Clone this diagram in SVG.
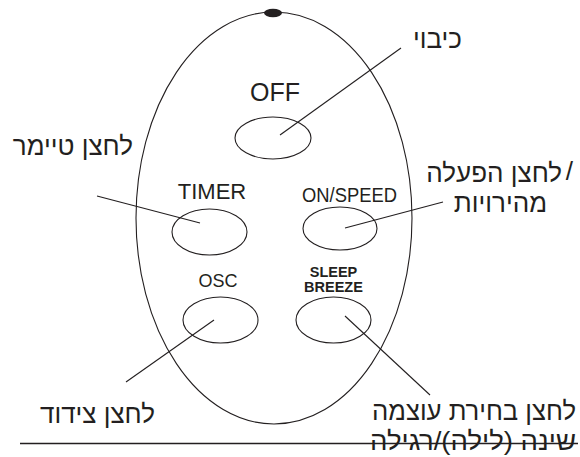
<svg xmlns="http://www.w3.org/2000/svg" width="580" height="457" viewBox="0 0 580 457">
<style>
.ln{stroke:#231f20;stroke-width:1.1;fill:none}
.btn{stroke:#231f20;stroke-width:1.1;fill:none}
.lbl{font-family:"Liberation Sans",Arial,sans-serif;fill:#231f20;text-anchor:middle}
.heb{font-family:"Liberation Sans","DejaVu Sans",sans-serif;fill:#231f20;font-size:26px;text-anchor:end}
</style>
<g id="remote">
<ellipse class="ln" cx="274" cy="218" rx="138" ry="206"/>
<ellipse cx="273" cy="13" rx="9" ry="4.2" fill="#231f20"/>
</g>
<g id="btn-off"><ellipse class="btn" cx="273" cy="138" rx="38" ry="21"/><text class="lbl" x="275" y="101" font-size="25">OFF</text></g>
<g id="btn-timer"><ellipse class="btn" cx="209.5" cy="232" rx="37.5" ry="23"/><text class="lbl" x="212" y="199" font-size="22">TIMER</text></g>
<g id="btn-onspeed"><ellipse class="btn" cx="340" cy="228.5" rx="37" ry="21.5"/><text class="lbl" x="349.5" y="202" font-size="21" textLength="95" lengthAdjust="spacingAndGlyphs">ON/SPEED</text></g>
<g id="btn-osc"><ellipse class="btn" cx="220.5" cy="320" rx="37.5" ry="23"/><text class="lbl" x="218" y="287" font-size="18">OSC</text></g>
<g id="btn-sleep"><ellipse class="btn" cx="333.5" cy="320" rx="37.5" ry="23"/><text class="lbl" x="333.5" y="277" font-size="14.5" font-weight="bold">SLEEP</text><text class="lbl" x="333.5" y="292" font-size="14.5" font-weight="bold">BREEZE</text></g>
<g id="label-off"><text class="heb" x="462" y="48">כיבוי</text></g>
<g id="label-timer"><text class="heb" x="133" y="155">לחצן טיימר</text></g>
<g id="label-onspeed"><text class="heb" x="562" y="182">לחצן הפעלה</text><text class="heb" x="573" y="180" font-size="20">/</text><text class="heb" x="547" y="212">מהירויות</text></g>
<g id="label-osc"><text class="heb" x="155" y="423">לחצן צידוד</text></g>
<g id="label-sleep"><text class="heb" x="576" y="420" font-size="22" textLength="204" lengthAdjust="spacingAndGlyphs">לחצן בחירת עוצמה</text><text class="heb" x="576" y="449.5" font-size="22" textLength="206" lengthAdjust="spacingAndGlyphs">שינה (לילה)/רגילה</text></g>
<g id="connectors">
<line class="ln" x1="401" y1="48" x2="280" y2="135"/>
<line class="ln" x1="97" y1="196" x2="200" y2="223"/>
<line class="ln" x1="443" y1="202" x2="345" y2="228"/>
<line class="ln" x1="214" y1="320" x2="126" y2="382"/>
<line class="ln" x1="345" y1="316" x2="430" y2="395"/>
<line x1="20" y1="443.5" x2="578" y2="443.5" stroke="#231f20" stroke-width="1.4"/>
</g>
</svg>
